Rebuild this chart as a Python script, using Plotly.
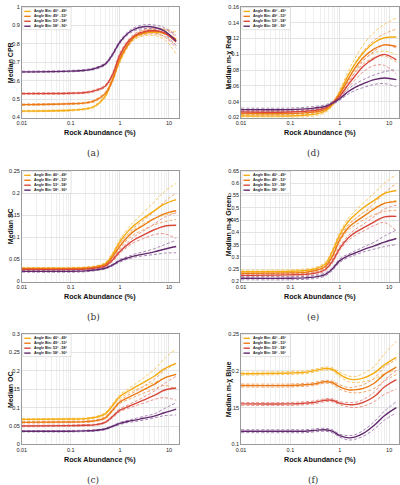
import plotly.graph_objects as go

# ---------------- data ----------------
ROCK = [0.01, 0.1, 0.2, 0.3, 0.5, 0.7, 1, 1.5, 2, 3, 5, 8, 14]
BINS = ["Angle Bin: 40° - 49°", "Angle Bin: 49° - 53°", "Angle Bin: 53° - 58°", "Angle Bin: 58° - 90°"]

CPR_MED = [[0.435, 0.440, 0.447, 0.460, 0.515, 0.605, 0.710, 0.800, 0.835, 0.855, 0.862, 0.855, 0.820],
           [0.470, 0.475, 0.480, 0.490, 0.530, 0.600, 0.720, 0.800, 0.840, 0.860, 0.868, 0.860, 0.825],
           [0.530, 0.532, 0.536, 0.545, 0.570, 0.630, 0.740, 0.815, 0.845, 0.865, 0.872, 0.860, 0.810],
           [0.648, 0.652, 0.657, 0.665, 0.690, 0.740, 0.810, 0.860, 0.880, 0.893, 0.890, 0.870, 0.815]]
CPR_UP = [[0.439, 0.444, 0.451, 0.465, 0.522, 0.615, 0.722, 0.812, 0.846, 0.868, 0.878, 0.880, 0.865],
          [0.474, 0.479, 0.484, 0.495, 0.537, 0.610, 0.730, 0.810, 0.850, 0.872, 0.882, 0.878, 0.855],
          [0.534, 0.536, 0.540, 0.550, 0.576, 0.638, 0.750, 0.825, 0.855, 0.876, 0.885, 0.878, 0.840],
          [0.652, 0.656, 0.661, 0.670, 0.696, 0.748, 0.818, 0.868, 0.889, 0.903, 0.902, 0.888, 0.845]]
CPR_LO = [[0.431, 0.436, 0.443, 0.455, 0.508, 0.595, 0.698, 0.788, 0.824, 0.842, 0.845, 0.825, 0.745],
          [0.466, 0.471, 0.476, 0.485, 0.523, 0.590, 0.710, 0.790, 0.830, 0.848, 0.853, 0.840, 0.790],
          [0.526, 0.528, 0.532, 0.540, 0.564, 0.622, 0.730, 0.805, 0.835, 0.854, 0.858, 0.840, 0.775],
          [0.644, 0.648, 0.653, 0.660, 0.684, 0.732, 0.802, 0.852, 0.871, 0.883, 0.878, 0.852, 0.790]]

RED_MED = [[0.022, 0.022, 0.023, 0.024, 0.028, 0.036, 0.052, 0.074, 0.087, 0.102, 0.115, 0.121, 0.122],
           [0.025, 0.025, 0.026, 0.027, 0.030, 0.037, 0.050, 0.069, 0.082, 0.096, 0.107, 0.112, 0.110],
           [0.027, 0.027, 0.028, 0.029, 0.032, 0.038, 0.047, 0.062, 0.072, 0.085, 0.095, 0.100, 0.093],
           [0.030, 0.030, 0.031, 0.032, 0.034, 0.038, 0.044, 0.053, 0.058, 0.063, 0.068, 0.070, 0.068]]
RED_UP = [[0.024, 0.024, 0.025, 0.026, 0.030, 0.038, 0.055, 0.079, 0.094, 0.112, 0.128, 0.138, 0.146],
          [0.027, 0.027, 0.028, 0.029, 0.032, 0.039, 0.053, 0.074, 0.088, 0.104, 0.118, 0.126, 0.132],
          [0.029, 0.029, 0.030, 0.031, 0.034, 0.040, 0.050, 0.066, 0.077, 0.092, 0.104, 0.112, 0.108],
          [0.032, 0.032, 0.033, 0.034, 0.036, 0.040, 0.046, 0.056, 0.062, 0.068, 0.074, 0.078, 0.081]]
RED_LO = [[0.020, 0.020, 0.021, 0.022, 0.026, 0.034, 0.049, 0.069, 0.080, 0.093, 0.102, 0.104, 0.100],
          [0.023, 0.023, 0.024, 0.025, 0.028, 0.035, 0.047, 0.064, 0.076, 0.088, 0.096, 0.098, 0.090],
          [0.025, 0.025, 0.026, 0.027, 0.030, 0.036, 0.044, 0.058, 0.067, 0.078, 0.086, 0.086, 0.075],
          [0.028, 0.028, 0.029, 0.030, 0.032, 0.036, 0.042, 0.050, 0.054, 0.058, 0.062, 0.063, 0.059]]

SC_MED = [[0.030, 0.030, 0.031, 0.033, 0.040, 0.060, 0.090, 0.115, 0.128, 0.143, 0.160, 0.175, 0.185],
          [0.029, 0.029, 0.030, 0.032, 0.038, 0.055, 0.080, 0.103, 0.115, 0.127, 0.142, 0.153, 0.160],
          [0.027, 0.027, 0.028, 0.030, 0.035, 0.048, 0.068, 0.085, 0.095, 0.105, 0.117, 0.125, 0.127],
          [0.023, 0.023, 0.024, 0.026, 0.030, 0.037, 0.047, 0.054, 0.058, 0.062, 0.067, 0.073, 0.079]]
SC_UP = [[0.032, 0.032, 0.033, 0.035, 0.043, 0.064, 0.095, 0.122, 0.137, 0.156, 0.180, 0.203, 0.222],
         [0.031, 0.031, 0.032, 0.034, 0.041, 0.059, 0.085, 0.109, 0.123, 0.138, 0.158, 0.180, 0.200],
         [0.029, 0.029, 0.030, 0.032, 0.037, 0.051, 0.072, 0.090, 0.102, 0.114, 0.130, 0.145, 0.155],
         [0.025, 0.025, 0.026, 0.028, 0.032, 0.039, 0.050, 0.057, 0.062, 0.067, 0.074, 0.083, 0.093]]
SC_LO = [[0.028, 0.028, 0.029, 0.031, 0.037, 0.056, 0.085, 0.108, 0.119, 0.131, 0.142, 0.150, 0.155],
         [0.027, 0.027, 0.028, 0.030, 0.035, 0.051, 0.075, 0.097, 0.107, 0.117, 0.128, 0.135, 0.140],
         [0.025, 0.025, 0.026, 0.028, 0.033, 0.045, 0.064, 0.080, 0.089, 0.097, 0.106, 0.108, 0.097],
         [0.021, 0.021, 0.022, 0.024, 0.028, 0.035, 0.044, 0.051, 0.055, 0.058, 0.061, 0.064, 0.065]]

GRN_MED = [[0.240, 0.242, 0.245, 0.250, 0.270, 0.320, 0.390, 0.445, 0.470, 0.500, 0.530, 0.558, 0.570],
           [0.233, 0.235, 0.237, 0.243, 0.260, 0.300, 0.370, 0.420, 0.440, 0.465, 0.495, 0.518, 0.525],
           [0.225, 0.227, 0.229, 0.233, 0.248, 0.280, 0.335, 0.378, 0.398, 0.418, 0.443, 0.463, 0.465],
           [0.213, 0.213, 0.215, 0.218, 0.228, 0.250, 0.285, 0.305, 0.315, 0.330, 0.345, 0.360, 0.375]]
GRN_UP = [[0.246, 0.248, 0.251, 0.256, 0.277, 0.328, 0.400, 0.458, 0.485, 0.520, 0.560, 0.600, 0.635],
          [0.239, 0.241, 0.243, 0.249, 0.266, 0.307, 0.378, 0.430, 0.452, 0.480, 0.518, 0.560, 0.600],
          [0.231, 0.233, 0.235, 0.239, 0.254, 0.287, 0.343, 0.388, 0.410, 0.433, 0.465, 0.495, 0.510],
          [0.219, 0.219, 0.221, 0.224, 0.234, 0.256, 0.292, 0.312, 0.323, 0.340, 0.360, 0.385, 0.410]]
GRN_LO = [[0.234, 0.236, 0.239, 0.244, 0.263, 0.312, 0.380, 0.432, 0.455, 0.480, 0.500, 0.520, 0.530],
          [0.227, 0.229, 0.231, 0.237, 0.254, 0.293, 0.362, 0.410, 0.428, 0.450, 0.472, 0.485, 0.490],
          [0.219, 0.221, 0.223, 0.227, 0.242, 0.273, 0.327, 0.368, 0.386, 0.405, 0.428, 0.440, 0.405],
          [0.207, 0.207, 0.209, 0.212, 0.222, 0.244, 0.278, 0.298, 0.307, 0.320, 0.332, 0.342, 0.350]]

OC_MED = [[0.068, 0.069, 0.070, 0.073, 0.083, 0.105, 0.130, 0.145, 0.155, 0.168, 0.185, 0.205, 0.220],
          [0.060, 0.061, 0.062, 0.064, 0.072, 0.092, 0.115, 0.128, 0.136, 0.148, 0.163, 0.180, 0.190],
          [0.050, 0.051, 0.052, 0.053, 0.060, 0.075, 0.093, 0.103, 0.110, 0.120, 0.133, 0.147, 0.153],
          [0.036, 0.036, 0.037, 0.038, 0.042, 0.049, 0.057, 0.063, 0.066, 0.071, 0.077, 0.086, 0.096]]
OC_UP = [[0.070, 0.071, 0.072, 0.075, 0.086, 0.109, 0.135, 0.152, 0.163, 0.180, 0.203, 0.232, 0.260],
         [0.062, 0.063, 0.064, 0.066, 0.075, 0.095, 0.119, 0.134, 0.143, 0.157, 0.177, 0.200, 0.220],
         [0.052, 0.053, 0.054, 0.055, 0.062, 0.078, 0.097, 0.108, 0.116, 0.128, 0.145, 0.165, 0.185],
         [0.038, 0.038, 0.039, 0.040, 0.044, 0.051, 0.060, 0.066, 0.070, 0.076, 0.083, 0.097, 0.113]]
OC_LO = [[0.066, 0.067, 0.068, 0.071, 0.080, 0.101, 0.125, 0.139, 0.147, 0.157, 0.168, 0.180, 0.190],
         [0.058, 0.059, 0.060, 0.062, 0.069, 0.089, 0.111, 0.122, 0.129, 0.139, 0.150, 0.160, 0.150],
         [0.048, 0.049, 0.050, 0.051, 0.058, 0.072, 0.089, 0.098, 0.104, 0.112, 0.122, 0.127, 0.120],
         [0.034, 0.034, 0.035, 0.036, 0.040, 0.047, 0.054, 0.060, 0.062, 0.066, 0.072, 0.078, 0.080]]

BLU_MED = [[0.196, 0.197, 0.198, 0.200, 0.203, 0.202, 0.195, 0.189, 0.188, 0.190, 0.197, 0.208, 0.218],
           [0.180, 0.180, 0.181, 0.182, 0.185, 0.184, 0.178, 0.174, 0.174, 0.176, 0.183, 0.195, 0.205],
           [0.155, 0.155, 0.156, 0.157, 0.160, 0.160, 0.156, 0.154, 0.154, 0.157, 0.165, 0.178, 0.188],
           [0.118, 0.118, 0.118, 0.119, 0.120, 0.118, 0.112, 0.109, 0.110, 0.115, 0.126, 0.139, 0.150]]
BLU_UP = [[0.198, 0.199, 0.200, 0.202, 0.205, 0.204, 0.198, 0.193, 0.192, 0.196, 0.206, 0.223, 0.240],
          [0.182, 0.182, 0.183, 0.184, 0.187, 0.186, 0.181, 0.177, 0.178, 0.181, 0.190, 0.205, 0.215],
          [0.157, 0.157, 0.158, 0.159, 0.162, 0.162, 0.158, 0.157, 0.157, 0.161, 0.171, 0.187, 0.200],
          [0.120, 0.120, 0.120, 0.121, 0.122, 0.120, 0.114, 0.112, 0.113, 0.119, 0.131, 0.145, 0.158]]
BLU_LO = [[0.194, 0.195, 0.196, 0.198, 0.201, 0.200, 0.192, 0.185, 0.184, 0.185, 0.189, 0.196, 0.200],
          [0.178, 0.178, 0.179, 0.180, 0.183, 0.182, 0.175, 0.171, 0.170, 0.171, 0.176, 0.186, 0.195],
          [0.153, 0.153, 0.154, 0.155, 0.158, 0.158, 0.154, 0.151, 0.150, 0.152, 0.158, 0.168, 0.175],
          [0.116, 0.116, 0.116, 0.117, 0.118, 0.116, 0.110, 0.106, 0.107, 0.111, 0.121, 0.133, 0.143]]

X_TICKS = [0.01, 0.1, 1, 10]
X_TICKTEXT = ["0.01", "0.1", "1", "10"]
Y_TICKS_CPR = [0.4, 0.5, 0.6, 0.7, 0.8, 0.9, 1.0]
Y_TICKS_RED = [0.02, 0.04, 0.06, 0.08, 0.10, 0.12, 0.14, 0.16]
Y_TICKS_SC = [0, 0.05, 0.10, 0.15, 0.20, 0.25]
Y_TICKS_GRN = [0.2, 0.25, 0.3, 0.35, 0.4, 0.45, 0.5, 0.55, 0.6, 0.65]
Y_TICKS_OC = [0, 0.05, 0.10, 0.15, 0.20, 0.25, 0.3]
Y_TICKS_BLU = [0.1, 0.15, 0.2, 0.25]

# ---------------- style ----------------
W, H = 400, 485
COLORS = ["#F4AC12", "#EC7A14", "#D8473A", "#62296E"]
LIGHT = ["#F8C866", "#F2A56C", "#E8928A", "#A586B2"]
COL_L = [17, 239]
COL_R = [176, 399]
ROW_T = [4, 170, 335]
ROW_B = [116, 282, 447]
TXT = "#222222"
FONT = "Liberation Sans, Arial, sans-serif"

panels = [
    ("(a)", 0, 0, "Median CPR", CPR_MED, CPR_UP, CPR_LO, Y_TICKS_CPR),
    ("(b)", 0, 1, "Median SC", SC_MED, SC_UP, SC_LO, Y_TICKS_SC),
    ("(c)", 0, 2, "Median OC", OC_MED, OC_UP, OC_LO, Y_TICKS_OC),
    ("(d)", 1, 0, "Median m-χ Red", RED_MED, RED_UP, RED_LO, Y_TICKS_RED),
    ("(e)", 1, 1, "Median m-χ Green", GRN_MED, GRN_UP, GRN_LO, Y_TICKS_GRN),
    ("(f)", 1, 2, "Median m-χ Blue", BLU_MED, BLU_UP, BLU_LO, Y_TICKS_BLU),
]

def px(x):
    return x / W

def py(y):
    return 1 - y / H

minor_x = [k * 10.0 ** e for e in range(-2, 2) for k in range(2, 10)]

fig = go.Figure()
shapes = []
annotations = []
layout = {}

for i, (cap, col, row, ytitle, med, up, lo, yticks) in enumerate(panels):
    n = "" if i == 0 else str(i + 1)
    xa, ya = "x" + n, "y" + n
    L, R, T, B = COL_L[col], COL_R[col], ROW_T[row], ROW_B[row]
    layout["xaxis" + n] = dict(
        domain=[px(L), px(R)], anchor=ya, type="log", range=[-2, 1.2],
        tickvals=X_TICKS, ticktext=X_TICKTEXT, ticks="",
        tickfont=dict(size=5.5, color=TXT, family=FONT),
        showgrid=True, gridcolor="#e4e4e4", gridwidth=0.6,
        minor=dict(tickvals=minor_x, showgrid=True, gridcolor="#efefef", gridwidth=0.5, ticks=""),
        showline=True, linecolor="#9a9a9a", linewidth=0.7, mirror=True, zeroline=False,
    )
    layout["yaxis" + n] = dict(
        domain=[py(B), py(T)], anchor=xa, range=[yticks[0], yticks[-1]],
        tickvals=yticks, ticktext=[f"{v:g}" for v in yticks], ticks="",
        tickfont=dict(size=5.5, color=TXT, family=FONT),
        showgrid=True, gridcolor="#e4e4e4", gridwidth=0.6,
        showline=True, linecolor="#9a9a9a", linewidth=0.7, mirror=True, zeroline=False,
    )
    # dashed bounds first
    for s in range(4):
        for bound in (up[s], lo[s]):
            fig.add_trace(go.Scatter(
                x=ROCK, y=bound, xaxis=xa, yaxis=ya, mode="lines",
                line=dict(color=LIGHT[s], width=1, dash="3px,2px", shape="spline", smoothing=1.0),
                showlegend=False, hoverinfo="skip"))
    for s in range(4):
        fig.add_trace(go.Scatter(
            x=ROCK, y=med[s], xaxis=xa, yaxis=ya, mode="lines",
            line=dict(color=COLORS[s], width=1.4, shape="spline", smoothing=1.0),
            name=BINS[s], showlegend=False))

    # axis titles
    annotations.append(dict(
        x=px(col * 222 + 5), y=py((T + B) / 2), xref="paper", yref="paper",
        text="<b>" + ytitle + "</b>", textangle=-90, showarrow=False,
        font=dict(size=7, color="#111", family=FONT), xanchor="center", yanchor="middle"))
    annotations.append(dict(
        x=px((L + R) / 2), y=py(B + 15), xref="paper", yref="paper",
        text="<b>Rock Abundance (%)</b>", showarrow=False,
        font=dict(size=7.2, color="#111", family=FONT), xanchor="center", yanchor="middle"))
    annotations.append(dict(
        x=px((L + R) / 2 - 7), y=py(B + 36), xref="paper", yref="paper",
        text=cap, showarrow=False,
        font=dict(size=9, color="#333", family="DejaVu Serif, serif"), xanchor="center", yanchor="middle"))

    # legend box (manual, tiny like the original)
    shapes.append(dict(type="rect", xref="paper", yref="paper",
                       x0=px(L + 1), x1=px(L + 50), y0=py(T + 0.5), y1=py(T + 23),
                       fillcolor="rgba(255,255,255,0.9)", line=dict(color="#c8c8c8", width=0.5)))
    for s in range(4):
        yy = T + 4.5 + 5.0 * s
        shapes.append(dict(type="line", xref="paper", yref="paper",
                           x0=px(L + 2.5), x1=px(L + 9), y0=py(yy), y1=py(yy),
                           line=dict(color=COLORS[s], width=1.4)))
        annotations.append(dict(
            x=px(L + 10), y=py(yy), xref="paper", yref="paper", text="<b>" + BINS[s] + "</b>",
            showarrow=False, font=dict(size=3.6, color="#222", family=FONT),
            xanchor="left", yanchor="middle"))

fig.update_layout(
    width=W, height=H, margin=dict(l=0, r=0, t=0, b=0),
    paper_bgcolor="white", plot_bgcolor="white",
    showlegend=False, shapes=shapes, annotations=annotations, **layout)

fig.write_html("out.html")
